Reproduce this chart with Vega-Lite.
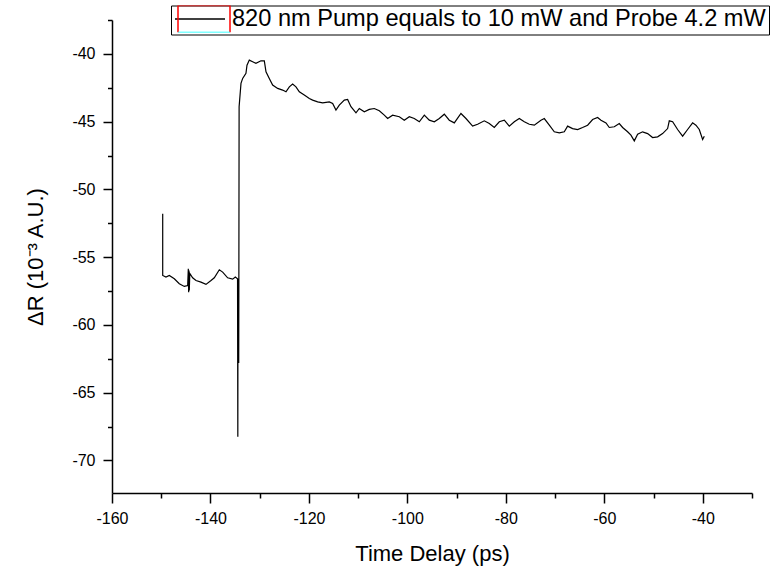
{
  "$schema": "https://vega.github.io/schema/vega-lite/v6.json",
  "width": 640,
  "height": 473,
  "autosize": {"type": "none"},
  "padding": {"left": 112, "top": 20, "right": 18, "bottom": 79},
  "background": "white",
  "config": {"view": {"stroke": null}, "font": "Liberation Sans"},
  "layer": [
    {
      "data": {"values": [
        {"delay": -149.7, "dR": -51.8}, {"delay": -149.7, "dR": -56.35}, {"delay": -149.04, "dR": -56.47},
        {"delay": -148.36, "dR": -56.35}, {"delay": -147.34, "dR": -56.59}, {"delay": -146.33, "dR": -56.96},
        {"delay": -145.31, "dR": -57.16}, {"delay": -144.63, "dR": -57.09}, {"delay": -144.5, "dR": -55.85},
        {"delay": -144.43, "dR": -57.58}, {"delay": -144.36, "dR": -55.98}, {"delay": -144.3, "dR": -57.46},
        {"delay": -144.2, "dR": -56.2}, {"delay": -143.62, "dR": -56.52}, {"delay": -142.94, "dR": -56.72},
        {"delay": -141.93, "dR": -56.84}, {"delay": -140.91, "dR": -57.01}, {"delay": -139.89, "dR": -56.72},
        {"delay": -139.22, "dR": -56.52}, {"delay": -138.2, "dR": -55.93}, {"delay": -137.52, "dR": -56.1},
        {"delay": -136.51, "dR": -56.52}, {"delay": -135.49, "dR": -56.62}, {"delay": -134.95, "dR": -56.47},
        {"delay": -134.5, "dR": -56.59}, {"delay": -134.44, "dR": -68.25}, {"delay": -134.41, "dR": -56.6},
        {"delay": -134.38, "dR": -62.8}, {"delay": -134.35, "dR": -56.8}, {"delay": -134.32, "dR": -62.6},
        {"delay": -134.29, "dR": -57.0}, {"delay": -134.26, "dR": -62.8}, {"delay": -134.23, "dR": -56.7},
        {"delay": -134.18, "dR": -43.9}, {"delay": -133.8, "dR": -42.18}, {"delay": -133.46, "dR": -41.81},
        {"delay": -132.79, "dR": -41.44}, {"delay": -132.58, "dR": -40.83}, {"delay": -132.11, "dR": -40.46},
        {"delay": -131.43, "dR": -40.58}, {"delay": -130.76, "dR": -40.7}, {"delay": -129.74, "dR": -40.51},
        {"delay": -129.06, "dR": -40.51}, {"delay": -128.72, "dR": -41.32}, {"delay": -128.05, "dR": -41.81},
        {"delay": -127.37, "dR": -42.3}, {"delay": -126.35, "dR": -42.55}, {"delay": -125.34, "dR": -42.67},
        {"delay": -124.66, "dR": -42.8}, {"delay": -123.98, "dR": -42.43}, {"delay": -123.31, "dR": -42.23},
        {"delay": -122.63, "dR": -42.43}, {"delay": -121.95, "dR": -42.8}, {"delay": -120.94, "dR": -43.04},
        {"delay": -119.92, "dR": -43.29}, {"delay": -119.24, "dR": -43.41}, {"delay": -118.23, "dR": -43.54},
        {"delay": -117.21, "dR": -43.61}, {"delay": -115.86, "dR": -43.54}, {"delay": -115.18, "dR": -43.66},
        {"delay": -114.51, "dR": -44.15}, {"delay": -113.83, "dR": -43.78}, {"delay": -112.81, "dR": -43.41},
        {"delay": -112.14, "dR": -43.36}, {"delay": -111.46, "dR": -43.9}, {"delay": -110.44, "dR": -44.35},
        {"delay": -109.77, "dR": -44.03}, {"delay": -108.75, "dR": -44.27}, {"delay": -107.74, "dR": -44.1},
        {"delay": -106.72, "dR": -44.03}, {"delay": -105.7, "dR": -44.2}, {"delay": -104.69, "dR": -44.52},
        {"delay": -104.01, "dR": -44.77}, {"delay": -103.0, "dR": -44.52}, {"delay": -101.64, "dR": -44.64},
        {"delay": -100.63, "dR": -44.89}, {"delay": -99.61, "dR": -44.64}, {"delay": -98.6, "dR": -44.77},
        {"delay": -97.58, "dR": -45.01}, {"delay": -96.56, "dR": -44.52}, {"delay": -95.55, "dR": -44.89},
        {"delay": -94.53, "dR": -45.01}, {"delay": -93.52, "dR": -44.77}, {"delay": -92.5, "dR": -44.45},
        {"delay": -91.49, "dR": -44.89}, {"delay": -90.47, "dR": -45.09}, {"delay": -89.12, "dR": -44.4},
        {"delay": -88.1, "dR": -44.77}, {"delay": -86.75, "dR": -45.33}, {"delay": -85.73, "dR": -45.19},
        {"delay": -84.38, "dR": -44.94}, {"delay": -83.36, "dR": -45.14}, {"delay": -82.35, "dR": -45.43},
        {"delay": -81.33, "dR": -45.01}, {"delay": -80.31, "dR": -44.89}, {"delay": -79.3, "dR": -45.33},
        {"delay": -78.28, "dR": -45.01}, {"delay": -77.27, "dR": -44.77}, {"delay": -76.25, "dR": -45.01},
        {"delay": -75.24, "dR": -45.19}, {"delay": -74.22, "dR": -45.26}, {"delay": -72.87, "dR": -44.89},
        {"delay": -72.19, "dR": -44.77}, {"delay": -71.17, "dR": -45.26}, {"delay": -70.16, "dR": -45.75},
        {"delay": -69.14, "dR": -45.83}, {"delay": -68.13, "dR": -45.75}, {"delay": -67.45, "dR": -45.33},
        {"delay": -66.44, "dR": -45.51}, {"delay": -65.42, "dR": -45.58}, {"delay": -64.41, "dR": -45.43},
        {"delay": -63.39, "dR": -45.26}, {"delay": -62.37, "dR": -44.84}, {"delay": -61.36, "dR": -44.69},
        {"delay": -60.68, "dR": -44.89}, {"delay": -59.66, "dR": -45.09}, {"delay": -58.99, "dR": -45.43},
        {"delay": -57.97, "dR": -45.38}, {"delay": -56.96, "dR": -45.14}, {"delay": -56.28, "dR": -45.43},
        {"delay": -55.27, "dR": -45.75}, {"delay": -54.59, "dR": -46.0}, {"delay": -53.91, "dR": -46.42},
        {"delay": -53.23, "dR": -45.93}, {"delay": -52.22, "dR": -45.75}, {"delay": -51.2, "dR": -45.88},
        {"delay": -50.19, "dR": -46.17}, {"delay": -49.17, "dR": -46.12}, {"delay": -48.16, "dR": -45.88},
        {"delay": -47.14, "dR": -45.51}, {"delay": -46.8, "dR": -44.94}, {"delay": -46.12, "dR": -45.01},
        {"delay": -45.11, "dR": -45.58}, {"delay": -44.09, "dR": -46.07}, {"delay": -43.08, "dR": -45.58},
        {"delay": -42.06, "dR": -45.09}, {"delay": -41.39, "dR": -45.26}, {"delay": -40.71, "dR": -45.58},
        {"delay": -40.03, "dR": -46.32}, {"delay": -39.69, "dR": -46.07}
      ]},
      "mark": {"type": "line", "color": "black", "strokeWidth": 1.2},
      "encoding": {
        "x": {
          "field": "delay", "type": "quantitative", "sort": null,
          "scale": {"domain": [-160, -30], "nice": false, "zero": false},
          "axis": {
            "values": [-160, -150, -140, -130, -120, -110, -100, -90, -80, -70, -60, -50, -40, -30],
            "labelExpr": "datum.value % 20 == 0 ? '' + datum.value : ''",
            "tickSize": 10,
            "tickDash": {"condition": {"test": "datum.value % 20 != 0", "value": [5, 30]}, "value": [30, 0]},
            "grid": false, "domainColor": "black", "domainWidth": 1.5, "tickColor": "black", "tickWidth": 1.5,
            "labelFont": "Liberation Sans", "labelFontSize": 16, "labelColor": "black", "labelPadding": 7,
            "labelFlush": false,
            "title": "Time Delay (ps)", "titleFont": "Liberation Sans", "titleFontSize": 22,
            "titleFontWeight": "normal", "titleColor": "black", "titlePadding": 17
          }
        },
        "y": {
          "field": "dR", "type": "quantitative",
          "scale": {"domain": [-72.4, -37.5], "nice": false, "zero": false},
          "axis": {
            "values": [-70, -67.5, -65, -62.5, -60, -57.5, -55, -52.5, -50, -47.5, -45, -42.5, -40, -37.5],
            "labelExpr": "datum.value % 5 == 0 ? '' + datum.value : ''",
            "tickSize": 9,
            "tickDash": {"condition": {"test": "datum.value % 5 != 0", "value": [4.5, 30]}, "value": [30, 0]},
            "grid": false, "domainColor": "black", "domainWidth": 1.5, "tickColor": "black", "tickWidth": 1.5,
            "labelFont": "Liberation Sans", "labelFontSize": 16, "labelColor": "black", "labelPadding": 8,
            "labelFlush": false,
            "title": "ΔR (10⁻³ A.U.)", "titleFont": "Liberation Sans", "titleFontSize": 22,
            "titleFontWeight": "normal", "titleColor": "black", "titlePadding": 24
          }
        },
        "color": {
          "datum": "820 nm Pump equals to 10 mW and Probe 4.2 mW", "type": "nominal",
          "scale": {"range": ["black"]},
          "legend": {
            "orient": "none", "legendX": 59, "legendY": -14.5, "title": null,
            "symbolType": "stroke", "symbolSize": 2500, "symbolStrokeWidth": 1.5,
            "strokeColor": "black", "padding": 3, "clipHeight": 21,
            "labelFont": "Liberation Sans", "labelFontSize": 23.6, "labelColor": "black",
            "labelOffset": 6, "labelLimit": 800
          }
        }
      }
    },
    {
      "data": {"values": [{"k": "box"}]},
      "mark": {"type": "point", "color": "red", "filled": false, "opacity": 0},
      "encoding": {
        "shape": {
          "field": "k", "type": "nominal",
          "scale": {"range": ["M-1,0.52V-0.52H1V0.52"]},
          "legend": {
            "orient": "none", "legendX": 65, "legendY": -14.5, "title": null,
            "symbolSize": 2704, "symbolStrokeColor": "red", "symbolFillColor": "transparent",
            "symbolOpacity": 1, "symbolStrokeWidth": 1.5, "clipHeight": 27, "padding": 0,
            "labelExpr": "''"
          }
        }
      }
    },
    {
      "data": {"values": [{"c": "cyan"}]},
      "mark": {"type": "point", "color": "cyan", "filled": false, "opacity": 0},
      "encoding": {
        "fill": {
          "field": "c", "type": "nominal",
          "scale": {"range": ["transparent"]},
          "legend": {
            "orient": "none", "legendX": 65, "legendY": -14.5, "title": null,
            "symbolType": "M-1,0.52H1",
            "symbolSize": 2704, "symbolStrokeColor": "cyan", "symbolFillColor": "transparent",
            "symbolOpacity": 1, "symbolStrokeWidth": 1.5, "clipHeight": 27, "padding": 0,
            "labelExpr": "''"
          }
        }
      }
    }
  ]
}
